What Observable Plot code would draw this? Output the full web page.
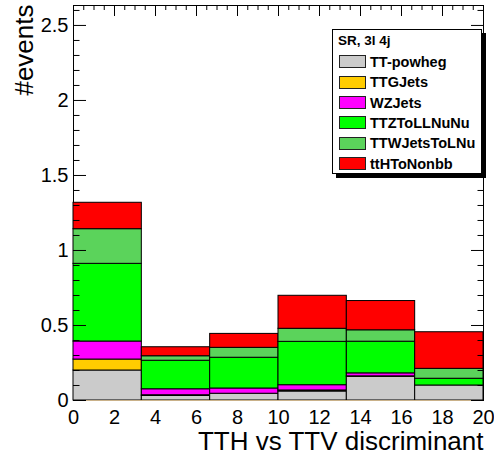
<!DOCTYPE html>
<html>
<head>
<meta charset="utf-8">
<script src="https://cdn.jsdelivr.net/npm/d3@7"></script>
<script src="https://cdn.jsdelivr.net/npm/@observablehq/plot@0.6"></script>
<style>
  body { margin: 0; background: #fff; }
  #chart { position: relative; width: 494px; height: 459px; font-family: "Liberation Sans", Arial, Helvetica, sans-serif; }
  #legend { position: absolute; left: 332px; top: 29px; width: 150px; height: 145px; box-sizing: border-box;
            border: 1px solid #000; background: #fff; box-shadow: 4px 4px 0 #000; }
  #legend .title { position: absolute; left: 5px; top: 3px; font-weight: bold; font-size: 13.5px; line-height: 16px; }
  #legend .row { position: absolute; left: 6px; height: 14px; display: flex; align-items: center; }
  #legend .sw { width: 27px; height: 13px; box-sizing: border-box; border: 1px solid #222; margin-right: 4px; }
  #legend .lab { font-weight: bold; font-size: 14.5px; white-space: nowrap; }
</style>
</head>
<body>
<div id="chart"></div>
<script>
// Histogram binning of the discriminant
const binEdges = [0, 3.333, 6.667, 10, 13.333, 16.667, 20];

// Processes, bottom of the stack first
const processes = ["TT-powheg", "TTGJets", "WZJets", "TTZToLLNuNu", "TTWJetsToLNu", "ttHToNonbb"];
const colors = ["#cbcbcb", "#ffcc00", "#ff00ff", "#00ff00", "#5bd35b", "#ff0000"];

// Expected events per bin
const ttPowheg     = [0.200, 0.030, 0.045, 0.060, 0.158, 0.100];
const ttgJets      = [0.073, 0.005, 0.000, 0.007, 0.003, 0.000];
const wzJets       = [0.120, 0.040, 0.035, 0.035, 0.020, 0.000];
const ttzToLLNuNu  = [0.518, 0.190, 0.205, 0.289, 0.211, 0.045];
const ttwJetsToLNu = [0.231, 0.030, 0.066, 0.087, 0.076, 0.066];
const ttHToNonbb   = [0.176, 0.060, 0.093, 0.220, 0.195, 0.244];

const legendTitle = "SR, 3l 4j";
const xTitle = "TTH vs TTV discriminant";
const yTitle = "#events";

const xMajor = [0, 2, 4, 6, 8, 10, 12, 14, 16, 18, 20];
const xLabels = ["0", "2", "4", "6", "8", "10", "12", "14", "16", "18", "20"];
const yMajor = [0, 0.5, 1, 1.5, 2, 2.5];
const yLabels = ["0", "0.5", "1", "1.5", "2", "2.5"];
const xMinor = d3.range(1, 40).filter(k => k % 4 !== 0).map(k => k / 2);
const yMinor = d3.range(1, 27).filter(k => k % 5 !== 0).map(k => k / 10);

// Build stacked rectangles
const series = [ttPowheg, ttgJets, wzJets, ttzToLLNuNu, ttwJetsToLNu, ttHToNonbb];
const rows = [];
for (let b = 0; b < binEdges.length - 1; b++) {
  let base = 0;
  series.forEach((vals, s) => {
    rows.push({process: processes[s], x1: binEdges[b], x2: binEdges[b + 1], y1: base, y2: base + vals[b]});
    base += vals[b];
  });
}

// Plot geometry, used to express tick lengths in data units
const W = 494, H = 459, mL = 73, mR = 11, mT = 5, mB = 59;
const xDomain = [0, 20], yDomain = [0, 2.633];
const xPerPx = (xDomain[1] - xDomain[0]) / (W - mL - mR);
const yPerPx = (yDomain[1] - yDomain[0]) / (H - mT - mB);

// inward tick marks drawn as short rules
const leftTicks = (data, px) => Plot.ruleY(data, {y: d => d, x1: xDomain[0], x2: xDomain[0] + px * xPerPx, stroke: "#000"});
const rightTicks = (data, px) => Plot.ruleY(data, {y: d => d, x1: xDomain[1] - px * xPerPx, x2: xDomain[1], stroke: "#000"});
const topTicks = (data, px) => Plot.ruleX(data, {x: d => d, y1: yDomain[1] - px * yPerPx, y2: yDomain[1], stroke: "#000"});

const chart = Plot.plot({
  width: W,
  height: H,
  marginLeft: mL,
  marginRight: mR,
  marginTop: mT,
  marginBottom: mB,
  style: {fontFamily: "'Liberation Sans', Arial, Helvetica, sans-serif", color: "#000", background: "#fff", overflow: "visible"},
  x: {domain: xDomain, axis: null},
  y: {domain: yDomain, axis: null},
  color: {domain: processes, range: colors},
  marks: [
    Plot.frame({stroke: "#000"}),
    Plot.rect(rows, {x1: "x1", x2: "x2", y1: "y1", y2: "y2", fill: "process", stroke: "#000", strokeWidth: 1}),
    Plot.ruleY([0], {stroke: "#c9b189"}),
    // tick labels
    Plot.text(yMajor, {y: d => d, text: (d, i) => yLabels[i], frameAnchor: "left", dx: -5, textAnchor: "end", fontSize: 20}),
    Plot.text(xMajor, {x: d => d, text: (d, i) => xLabels[i], frameAnchor: "bottom", dy: 9, lineAnchor: "top", fontSize: 20}),
    // axis titles
    Plot.text([xTitle], {text: d => d, frameAnchor: "bottom-right", dy: 49, textAnchor: "end", lineAnchor: "bottom", fontSize: 26}),
    Plot.text([yTitle], {text: d => d, frameAnchor: "top-left", dx: -41, dy: -1, rotate: -90, textAnchor: "end", lineAnchor: "bottom", fontSize: 26}),
    // inward ticks on the left, right and top edges
    leftTicks(yMajor, 13),
    leftTicks(yMinor, 6.5),
    rightTicks(yMajor, 12),
    rightTicks(yMinor, 5.5),
    topTicks(xMajor, 11),
    topTicks(xMinor, 5)
  ]
});

const root = document.getElementById("chart");
root.appendChild(chart);

// Legend box
const legend = document.createElement("div");
legend.id = "legend";
const title = document.createElement("div");
title.className = "title";
title.textContent = legendTitle;
legend.appendChild(title);
processes.forEach((name, i) => {
  const row = document.createElement("div");
  row.className = "row";
  row.style.top = (24.7 + i * 20.4) + "px";
  const sw = document.createElement("div");
  sw.className = "sw";
  sw.style.background = colors[i];
  const lab = document.createElement("span");
  lab.className = "lab";
  lab.textContent = name;
  row.appendChild(sw);
  row.appendChild(lab);
  legend.appendChild(row);
});
root.appendChild(legend);
</script>
</body>
</html>
